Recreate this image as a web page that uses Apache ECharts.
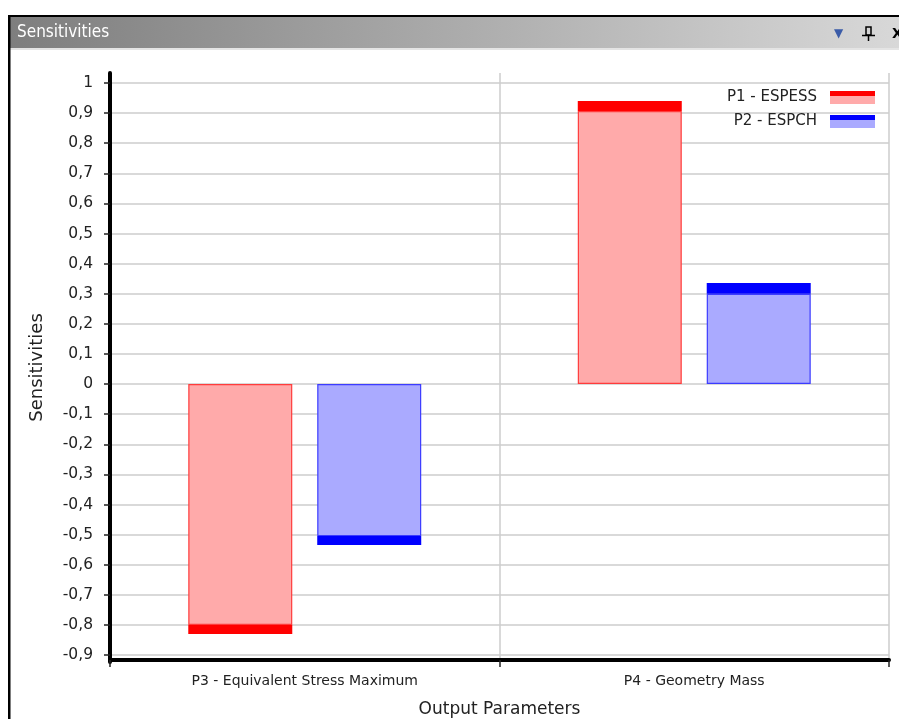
<!DOCTYPE html>
<html>
<head>
<meta charset="utf-8">
<script src="https://cdn.jsdelivr.net/npm/echarts@6/dist/echarts.min.js"></script>
<style>
html,body{margin:0;padding:0;background:#fff;}
#chart{width:899px;height:719px;}
</style>
</head>
<body>
<div id="chart"></div>
<script>
// ---- data ----
const categories = ['P3 - Equivalent Stress Maximum', 'P4 - Geometry Mass'];
const seriesNames = ['P1 - ESPESS', 'P2 - ESPCH'];
// light body of each bar (from 0 to start of dark end band)
const p1Body = [-0.80, 0.907];
const p2Body = [-0.505, 0.30];
// dark end band of each bar
const p1End = [-0.03, 0.033];
const p2End = [-0.03, 0.036];
// y axis ticks
const yMin = -0.9, yMax = 1.0, yStep = 0.1;
const yAxisTitle = 'Sensitivities';
const xAxisTitle = 'Output Parameters';
const panelTitle = 'Sensitivities';

const FONT = 'DejaVu Sans';
const chart = echarts.init(document.getElementById('chart'), null, {renderer: 'canvas'});

function twoTone(dark, light) {
  return {type: 'linear', x: 0, y: 0, x2: 0, y2: 1, colorStops: [
    {offset: 0, color: dark}, {offset: 0.38, color: dark},
    {offset: 0.38, color: light}, {offset: 1, color: light}]};
}

const option = {
  backgroundColor: '#ffffff',
  animation: false,
  grid: [
    {left: 110, right: 10, top: 83, bottom: 64, outerBoundsMode: 'none', containLabel: false},
    {left: 110, right: 10, top: 73, bottom: 57, outerBoundsMode: 'none', containLabel: false}
  ],
  legend: {
    orient: 'vertical', right: 24, top: 90, align: 'right', padding: 0,
    itemWidth: 45, itemHeight: 13, itemGap: 9, icon: 'rect',
    textStyle: {fontFamily: FONT, fontSize: 15, color: '#222', padding: [0, 8, 0, 0]},
    data: [
      {name: seriesNames[0], itemStyle: {color: twoTone('#ff0000', '#ffaaaa'), borderWidth: 0}},
      {name: seriesNames[1], itemStyle: {color: twoTone('#0000ff', '#aaaaff'), borderWidth: 0}}
    ]
  },
  xAxis: [
    {
      type: 'category', gridIndex: 0, data: categories, boundaryGap: true,
      offset: 5,
      axisLine: {show: true, onZero: false, lineStyle: {color: '#000', width: 4}},
      axisTick: {show: true, length: 7, lineStyle: {color: '#222', width: 1.5}},
      axisLabel: {fontFamily: FONT, fontSize: 14, color: '#222', margin: 14},
      splitLine: {show: false},
      name: xAxisTitle, nameLocation: 'middle', nameGap: 41,
      nameTextStyle: {fontFamily: FONT, fontSize: 17, color: '#222'}
    },
    {
      type: 'category', gridIndex: 1, data: categories, boundaryGap: true,
      axisLine: {show: false}, axisTick: {show: false}, axisLabel: {show: false},
      splitLine: {show: true, lineStyle: {color: '#cccccc', width: 1.5}}
    }
  ],
  yAxis: [
    {
      type: 'value', gridIndex: 0, min: yMin, max: yMax, interval: yStep,
      axisLine: {show: false},
      axisTick: {show: true, length: 6, lineStyle: {color: '#222', width: 1.5}},
      axisLabel: {
        fontFamily: FONT, fontSize: 15.5, color: '#222', margin: 17,
        formatter: v => String(Math.round(v * 10) / 10).replace('.', ',')
      },
      splitLine: {show: true, lineStyle: {color: '#cccccc', width: 1.5}}
    },
    {
      type: 'value', gridIndex: 1, min: 0, max: 1,
      axisLine: {show: true, lineStyle: {color: '#000', width: 4}},
      axisTick: {show: false}, axisLabel: {show: false}, splitLine: {show: false},
      name: yAxisTitle, nameLocation: 'middle', nameGap: 64,
      nameTextStyle: {fontFamily: FONT, fontSize: 18, color: '#222'}
    }
  ],
  series: [
    {
      name: seriesNames[0], type: 'bar', stack: 'p1', xAxisIndex: 0, yAxisIndex: 0,
      data: p1Body, barWidth: 104, barGap: '24%',
      itemStyle: {color: '#ffaaaa', borderColor: '#ff3c3c', borderWidth: 1.2}
    },
    {
      name: seriesNames[0] + ' end', type: 'bar', stack: 'p1', xAxisIndex: 0, yAxisIndex: 0,
      data: p1End, barWidth: 104, barGap: '24%',
      itemStyle: {color: '#ff0000'}
    },
    {
      name: seriesNames[1], type: 'bar', stack: 'p2', xAxisIndex: 0, yAxisIndex: 0,
      data: p2Body, barWidth: 104, barGap: '24%',
      itemStyle: {color: '#aaaaff', borderColor: '#3c3cff', borderWidth: 1.2}
    },
    {
      name: seriesNames[1] + ' end', type: 'bar', stack: 'p2', xAxisIndex: 0, yAxisIndex: 0,
      data: p2End, barWidth: 104, barGap: '24%',
      itemStyle: {color: '#0000ff'}
    }
  ],
  graphic: [
    {type: 'rect', shape: {x: 10, y: 17, width: 889, height: 32}, z: 10,
     style: {fill: {type: 'linear', x: 0, y: 0, x2: 1, y2: 0, colorStops: [
       {offset: 0, color: '#7e7e7e'}, {offset: 1, color: '#d8d8d8'}]}}},
    {type: 'rect', shape: {x: 10, y: 48, width: 889, height: 2}, z: 10, style: {fill: '#e4e4e4'}},
    {type: 'text', x: 17, y: 33, z: 11,
     style: {text: panelTitle, fill: '#ffffff', font: '17px "DejaVu Sans Condensed", "DejaVu Sans"', verticalAlign: 'middle'}},
    {type: 'text', x: 834, y: 34, z: 11,
     style: {text: '▼', fill: '#3b5ca8', font: '12px "DejaVu Sans"', verticalAlign: 'middle'}},
    {type: 'group', z: 11, children: [
      {type: 'rect', shape: {x: 866, y: 27, width: 5, height: 8}, z: 11, style: {fill: 'none', stroke: '#000', lineWidth: 1.5}},
      {type: 'line', shape: {x1: 862, y1: 35.5, x2: 875, y2: 35.5}, z: 11, style: {stroke: '#000', lineWidth: 1.5}},
      {type: 'line', shape: {x1: 868.5, y1: 35.5, x2: 868.5, y2: 41}, z: 11, style: {stroke: '#000', lineWidth: 1.5}}
    ]},
    {type: 'text', x: 892, y: 34, z: 11,
     style: {text: 'X', fill: '#000', font: 'bold 14px "DejaVu Sans"', verticalAlign: 'middle'}},
    {type: 'rect', shape: {x: 8, y: 15, width: 891, height: 2}, z: 12, style: {fill: '#000'}},
    {type: 'rect', shape: {x: 8, y: 15, width: 2.5, height: 704}, z: 12, style: {fill: '#000'}}
  ]
};
chart.setOption(option);
</script>
</body>
</html>
